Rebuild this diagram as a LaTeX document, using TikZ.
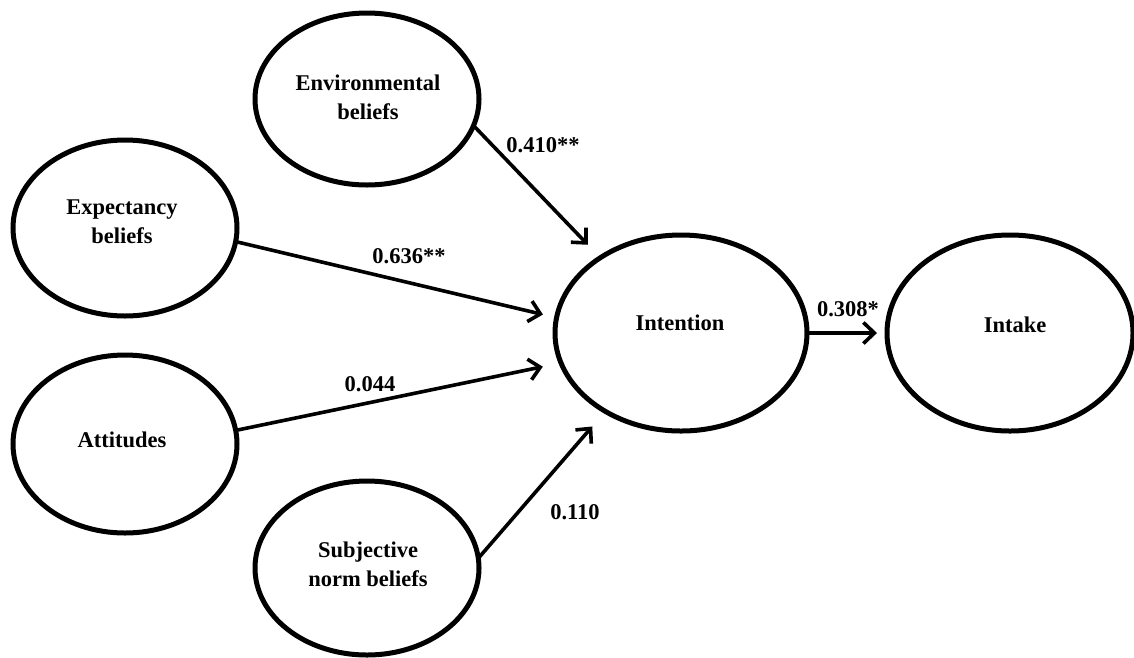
\documentclass[tikz,border=0pt]{standalone}
\usepackage{fontspec}
\setmainfont{Liberation Serif}
\usetikzlibrary{shapes.geometric,arrows.meta}
\begin{document}
\begin{tikzpicture}[x=1pt,y=-1pt,
  ell/.style={draw, ellipse, line width=5pt, inner sep=0pt, outer sep=0pt},
  txt/.style={font=\fontsize{22.5}{29}\selectfont\bfseries, align=center, inner sep=0pt},
  arr/.style={line width=3.6pt, -{Straight Barb[length=11pt,width=21pt]}},
  lab/.style={font=\fontsize{22.5}{29}\selectfont\bfseries, inner sep=0pt}]
\useasboundingbox (0,0) rectangle (1134,657);
% ellipses
\node[ell, minimum width=224pt, minimum height=172pt] (env) at (367,99) {};
\node[ell, minimum width=224pt, minimum height=176pt] (exp) at (125,228) {};
\node[ell, minimum width=224pt, minimum height=178pt] (att) at (125,444) {};
\node[ell, minimum width=224pt, minimum height=174pt] (sub) at (367,568) {};
\node[ell, minimum width=252pt, minimum height=196pt] (int) at (681,333) {};
\node[ell, minimum width=246pt, minimum height=196pt] (intake) at (1010,333) {};
% texts
\node[txt] (envT) at (368,97) {Environmental\\beliefs};
\node[txt] (expT) at (122,222) {Expectancy\\beliefs};
\node[txt] (attT) at (122,440) {Attitudes};
\node[txt] (subT) at (368,564) {Subjective\\norm beliefs};
\node[txt] (intT) at (680,323) {Intention};
\node[txt] (intakeT) at (1015,325) {Intake};
% connectors
\draw[arr, shorten >=18pt] (env.-14) -- (int.137.5);
\draw[arr, shorten >=14pt] (exp.-7.6) -- (int.173.2);
\draw[arr, shorten >=18.6pt] (att.7.6) -- (int.194.2);
\draw[arr, shorten >=20pt] (sub.5.6) -- (int.226.5);
\draw[arr, shorten >=10pt] (int.east) -- (intake.west);
% labels
\node[lab] (l410) at (543,145) {0.410**};
\node[lab] (l636) at (409,256) {0.636**};
\node[lab] (l044) at (370,384) {0.044};
\node[lab] (l110) at (575,512) {0.110};
\node[lab] (l308) at (848,309) {0.308*};
\end{tikzpicture}
\end{document}
